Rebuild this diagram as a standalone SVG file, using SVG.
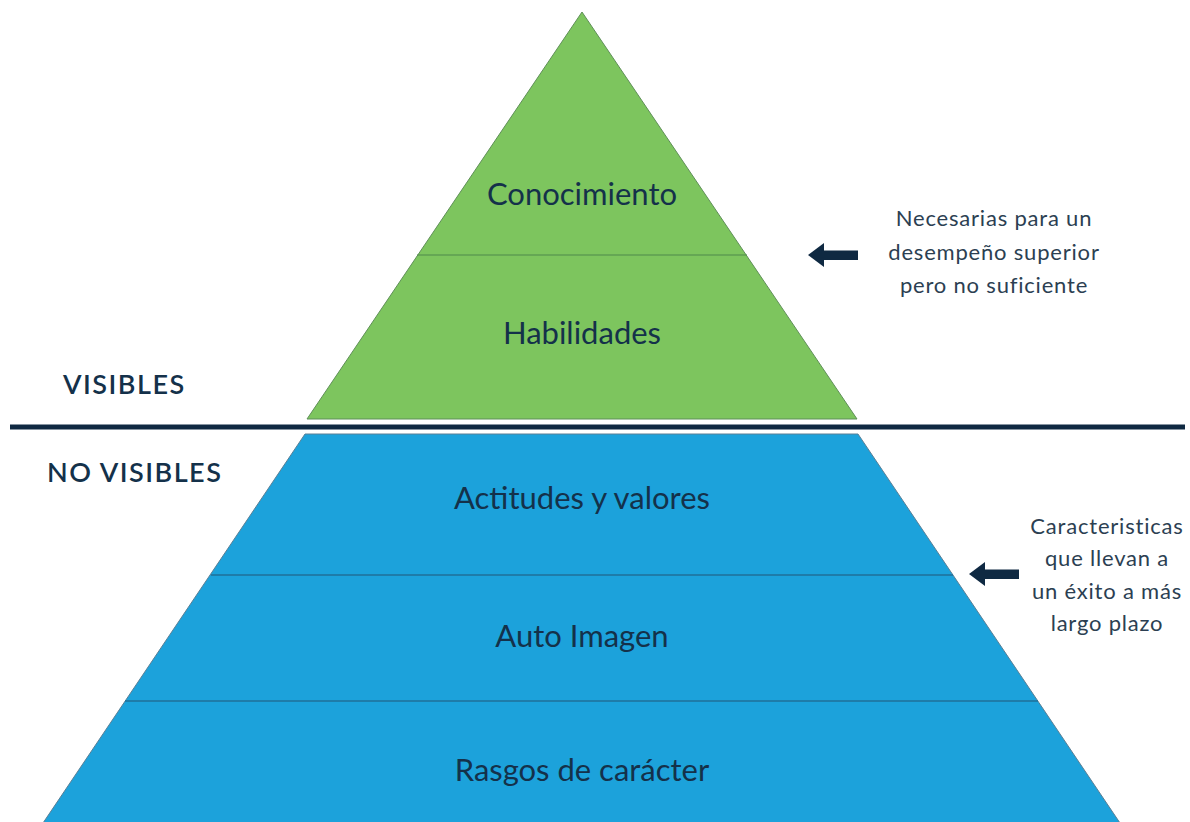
<svg xmlns="http://www.w3.org/2000/svg" width="1190" height="822" viewBox="0 0 1190 822">
<defs>
<style>
.lbl{font-family:Lato,"Open Sans","Liberation Sans",sans-serif;fill:#14314a;text-anchor:middle}
.big{font-size:31px}
.side{font-size:27px;font-weight:600;letter-spacing:1.5px;text-anchor:start}
.note{font-size:22px;fill:#2c3f52;letter-spacing:0.8px}
.green{fill:#7dc55e;stroke:#5f8f58;stroke-width:1}
.blue{fill:#1ca2db;stroke:#5a7f95;stroke-width:1}
.sep{stroke:#1f6f99;stroke-width:1.5}
.gsep{stroke:#4f8a4a;stroke-width:1.2}
.arrow{fill:#0f2942}
</style>
</defs>
<rect width="1190" height="822" fill="#ffffff"/>
<g id="pyramid-top">
<polygon class="green" points="582,12 857,419 307,419"/>
<line class="gsep" x1="417" y1="255" x2="747" y2="255"/>
</g>
<g id="conocimiento"><text class="lbl big" x="582" y="205">Conocimiento</text></g>
<g id="habilidades"><text class="lbl big" x="582" y="344">Habilidades</text></g>
<g id="pyramid-bottom">
<polygon class="blue" points="305,434 858,434 1120,823 43,823"/>
<line class="sep" x1="211" y1="575" x2="953" y2="575"/>
<line class="sep" x1="125" y1="701" x2="1038" y2="701"/>
</g>
<g id="actitudes"><text class="lbl big" x="582" y="509">Actitudes y valores</text></g>
<g id="autoimagen"><text class="lbl big" x="582" y="647">Auto Imagen</text></g>
<g id="rasgos"><text class="lbl big" x="582" y="781">Rasgos de carácter</text></g>
<g id="divider">
<rect x="10" y="424.5" width="1175" height="5" fill="#0f2942"/>
</g>
<g id="visibles"><text class="lbl side" x="63" y="394">VISIBLES</text></g>
<g id="novisibles"><text class="lbl side" x="47" y="482">NO VISIBLES</text></g>
<g id="connectors">
<polygon class="arrow" points="808,255 824,243 824,250.5 858,250.5 858,260 824,260 824,267"/>
<polygon class="arrow" points="969,574 985,562 985,569.5 1019,569.5 1019,579 985,579 985,586"/>
</g>
<g id="note-top">
<text class="lbl note" x="994" y="226">Necesarias para un</text>
<text class="lbl note" x="994" y="260">desempeño superior</text>
<text class="lbl note" x="994" y="293">pero no suficiente</text>
</g>
<g id="note-bottom">
<text class="lbl note" x="1107" y="534">Caracteristicas</text>
<text class="lbl note" x="1107" y="566">que llevan a</text>
<text class="lbl note" x="1107" y="599">un éxito a más</text>
<text class="lbl note" x="1107" y="631">largo plazo</text>
</g>
</svg>
